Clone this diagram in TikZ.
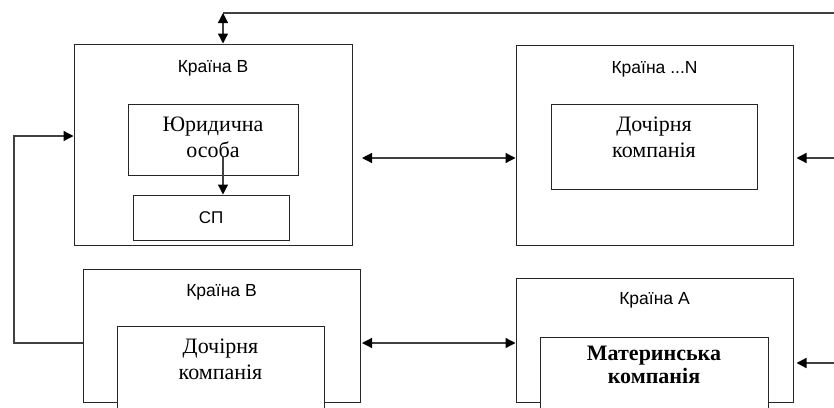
\documentclass[tikz,border=0pt]{standalone}
\usepackage{fontspec}
\setmainfont{Liberation Serif}
\setsansfont{Liberation Sans}
\usetikzlibrary{positioning,arrows.meta}
\begin{document}
\begin{tikzpicture}
      [x=1pt,y=-1pt,
      country/.style={draw=black!85, line width=1pt, inner sep=0pt, minimum width=277pt},
      firm/.style={draw=black!85, line width=1pt, fill=white, inner sep=0pt},
      title/.style={inner sep=0pt, font=\sffamily\fontsize{17.5}{20}\selectfont},
      firmtext/.style={inner sep=0pt, align=center, font=\fontsize{22}{26}\selectfont},
      link/.style={line width=1.3pt, draw=black!75, -{Triangle[length=10pt,width=10pt,color=black]}},
      both/.style={link, {Triangle[length=10pt,width=10pt,color=black]}-{Triangle[length=10pt,width=10pt,color=black]}},
      ]
      \useasboundingbox (0,0) rectangle (834,407);
      \clip (0,0) rectangle (834,407);
      % countries
      \node[country, minimum width=278pt, minimum height=201pt] (krB) at (213,144.5) {};
      \node[country, minimum height=200pt] (krN) at (654.5,145) {};
      \node[country, minimum height=133pt] (krB2) at (221.5,335.5) {};
      \node[country, minimum height=124pt] (krA) at (654.5,340) {};
      \node[title, below=17pt of krB.north] {Країна В};
      \node[title, below=17pt of krN.north] {Країна ...N};
      \node[title, below=16pt of krB2.north] {Країна В};
      \node[title, below=15pt of krA.north] {Країна А};
      % firms
      \node[firm, minimum width=170pt, minimum height=71pt] (jur) at (213,139.5) {};
      \node[firm, minimum width=156pt, minimum height=45pt] (sp) at (211,217.5) {};
      \node[firm, minimum width=206pt, minimum height=85pt] (dn) at (654,146.5) {};
      \node[firm, minimum width=207pt, minimum height=86pt] (db) at (220.5,369) {};
      \node[firm, minimum width=228pt, minimum height=75pt] (mat) at (654,374.5) {};
      \node[firmtext, below=13pt of jur.north] {Юридична\\особа};
      \node[title, font=\sffamily\fontsize{17}{20}\selectfont] at (sp) {СП};
      \node[firmtext, below=13pt of dn.north] {Дочірня\\компанія};
      \node[firmtext, below=13pt of db.north] {Дочірня\\компанія};
      \node[firmtext, font=\bfseries\fontsize{22}{23}\selectfont, below=9pt of mat.north] {Материнська\\компанія};
      % links
      \coordinate (topL) at (223,13);
      \coordinate (topR) at (834,13);
      \coordinate (jurIn) at (223,157);
      \coordinate (mTop) at (362,158);
      \coordinate (mBot) at (362,343);
      \coordinate (rTop) at (834,158);
      \coordinate (rBot) at (834,363);
      \coordinate (loop) at (14,136);
      \draw[link, -] (topR) -- (topL);
      \draw[both] (topL) -- (topL |- krB.north);
      \draw[link] (jurIn) -- (jurIn |- sp.north);
      \draw[both] (mTop) -- (mTop -| krN.west);
      \draw[both] (mBot) -- (mBot -| krA.west);
      \draw[link] (rTop) -- ([xshift=3pt]rTop -| krN.east);
      \draw[link] (rBot) -- ([xshift=3pt]rBot -| krA.east);
      \draw[link] (mBot -| krB2.west) -| (loop) -- (loop -| krB.west);
\end{tikzpicture}
\end{document}
